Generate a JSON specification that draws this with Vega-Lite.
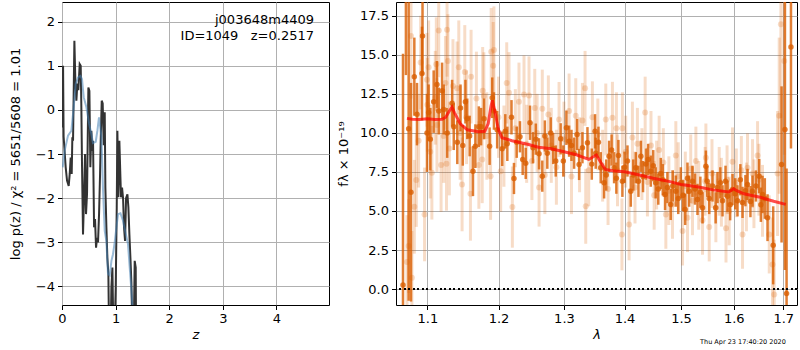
{
"$schema": "https://vega.github.io/schema/vega-lite/v6.json",
"padding": {"left": 8, "top": 1, "right": 1, "bottom": 0},
"spacing": 7,
"config": {
 "view": {"stroke": "black", "strokeWidth": 1},
 "font": "DejaVu Sans",
 "axis": {"labelFont": "DejaVu Sans", "labelFontSize": 13, "titleFont": "DejaVu Sans", "titleFontSize": 13, "titleFontWeight": "normal", "tickSize": 4.5, "tickColor": "black", "labelColor": "black", "titleColor": "black", "labelPadding": 3, "domain": false, "gridColor": "#b0b0b0", "gridWidth": 1, "gridOpacity": 1, "labelFlush": false, "labelOverlap": false}
},
"datasets": {
 "pzk": [
  {"z":0.005,"lp":1.0},{"z":0.012,"lp":-0.4},{"z":0.02,"lp":1.0},{"z":0.03,"lp":-0.6},{"z":0.069,"lp":-1.3},{"z":0.094,"lp":-1.6},{"z":0.125,"lp":-1.72},{"z":0.144,"lp":-1.45},{"z":0.162,"lp":-1.08},{"z":0.181,"lp":-1.45},{"z":0.193,"lp":-0.62},{"z":0.206,"lp":-0.7},{"z":0.231,"lp":1.57},{"z":0.249,"lp":0.67},{"z":0.268,"lp":0.21},{"z":0.287,"lp":0.6},{"z":0.305,"lp":0.45},{"z":0.33,"lp":1.04},{"z":0.349,"lp":1.0},{"z":0.361,"lp":0.06},{"z":0.374,"lp":-1.3},{"z":0.392,"lp":-2.82},{"z":0.411,"lp":-1.98},{"z":0.43,"lp":-1.0},{"z":0.448,"lp":-2.36},{"z":0.467,"lp":-1.9},{"z":0.492,"lp":0.51},{"z":0.511,"lp":0.43},{"z":0.529,"lp":-1.3},{"z":0.548,"lp":-0.47},{"z":0.567,"lp":-0.93},{"z":0.579,"lp":-0.7},{"z":0.598,"lp":-2.66},{"z":0.616,"lp":-2.47},{"z":0.635,"lp":-3.12},{"z":0.654,"lp":-2.9},{"z":0.672,"lp":-3.0},{"z":0.691,"lp":-2.36},{"z":0.71,"lp":-1.45},{"z":0.722,"lp":-0.7},{"z":0.741,"lp":0.21},{"z":0.759,"lp":0.15},{"z":0.778,"lp":-0.8},{"z":0.797,"lp":-0.05},{"z":0.809,"lp":-1.76},{"z":0.828,"lp":-2.66},{"z":0.846,"lp":-3.35},{"z":0.865,"lp":-3.72},{"z":0.877,"lp":-5},{"z":0.909,"lp":-5},{"z":0.921,"lp":-4.03},{"z":0.94,"lp":-3.57},{"z":0.958,"lp":-5},{"z":0.983,"lp":-5},{"z":1.002,"lp":-4.03},{"z":1.021,"lp":-2.21},{"z":1.033,"lp":-0.47},{"z":1.052,"lp":-1.98},{"z":1.07,"lp":-0.7},{"z":1.089,"lp":-1.5},{"z":1.101,"lp":-1.98},{"z":1.12,"lp":-1.76},{"z":1.139,"lp":-2.0},{"z":1.157,"lp":-2.66},{"z":1.176,"lp":-2.97},{"z":1.195,"lp":-2.0},{"z":1.22,"lp":-1.91},{"z":1.238,"lp":-2.2},{"z":1.257,"lp":-2.82},{"z":1.276,"lp":-3.35},{"z":1.294,"lp":-3.9},{"z":1.313,"lp":-5},{"z":1.338,"lp":-5},{"z":1.356,"lp":-3.42},{"z":1.375,"lp":-3.57},{"z":1.381,"lp":-5},{"z":1.45,"lp":-6}
 ],
 "pzb": [
  {"z":0.013,"lp":-1.3},{"z":0.05,"lp":-0.92},{"z":0.112,"lp":-0.58},{"z":0.175,"lp":-0.47},{"z":0.218,"lp":0.06},{"z":0.256,"lp":0.59},{"z":0.299,"lp":0.74},{"z":0.343,"lp":0.77},{"z":0.373,"lp":0.7},{"z":0.405,"lp":0.29},{"z":0.455,"lp":0.06},{"z":0.504,"lp":-0.3},{"z":0.549,"lp":-0.55},{"z":0.578,"lp":-0.75},{"z":0.629,"lp":-0.72},{"z":0.66,"lp":-0.47},{"z":0.69,"lp":-0.17},{"z":0.735,"lp":-0.6},{"z":0.75,"lp":-1.2},{"z":0.765,"lp":-1.8},{"z":0.797,"lp":-2.74},{"z":0.828,"lp":-2.97},{"z":0.858,"lp":-3.72},{"z":0.89,"lp":-3.75},{"z":0.922,"lp":-3.42},{"z":0.951,"lp":-3.27},{"z":0.983,"lp":-3.0},{"z":1.015,"lp":-2.66},{"z":1.045,"lp":-2.36},{"z":1.09,"lp":-2.34},{"z":1.138,"lp":-2.51},{"z":1.188,"lp":-2.8},{"z":1.231,"lp":-3.04},{"z":1.263,"lp":-3.57},{"z":1.295,"lp":-4.1},{"z":1.32,"lp":-4.6},{"z":1.4,"lp":-6}
 ],
 "lab": [
  {"z":4.7,"lp":1.952,"t":"j003648m4409"},{"z":4.7,"lp":1.596,"t":"ID=1049\u00a0\u00a0\u00a0z=0.2517"}
 ],
 "dk": [
  {"w":1.0677,"f":0.26,"e":14.8},{"w":1.0715,"f":19.5,"e":5.8},{"w":1.0751,"f":10.26,"e":11},{"w":1.0782,"f":6.2,"e":7},{"w":1.0826,"f":13.6,"e":2.5},{"w":1.0861,"f":11.2,"e":2},{"w":1.0928,"f":13.8,"e":3},{"w":1.0935,"f":16.2,"e":2.5},{"w":1.0995,"f":10.0,"e":2.5},{"w":1.1017,"f":11.3,"e":1.8},{"w":1.104,"f":9.6,"e":2.0},{"w":1.1085,"f":12.0,"e":2},{"w":1.113,"f":13.1,"e":1.5},{"w":1.1154,"f":11.4,"e":1.5},{"w":1.12,"f":12.7,"e":1.8},{"w":1.1222,"f":11.5,"e":1.6},{"w":1.127,"f":10.0,"e":1.6},{"w":1.1338,"f":11.9,"e":1.5},{"w":1.1361,"f":10.4,"e":1.5},{"w":1.141,"f":9.4,"e":1.4},{"w":1.1455,"f":11.6,"e":1.5},{"w":1.1487,"f":9.2,"e":1.3},{"w":1.1524,"f":12.0,"e":1.4},{"w":1.155,"f":10.9,"e":1.3},{"w":1.1584,"f":9.8,"e":1.3},{"w":1.1631,"f":7.55,"e":1.6},{"w":1.1665,"f":9.15,"e":1.4},{"w":1.1715,"f":10.4,"e":1.3},{"w":1.1747,"f":10.4,"e":1.2},{"w":1.179,"f":10.9,"e":1.3},{"w":1.187,"f":9.15,"e":1.2},{"w":1.1908,"f":12.25,"e":1.3},{"w":1.1933,"f":11.4,"e":1.2},{"w":1.198,"f":10.2,"e":1.2},{"w":1.2054,"f":8.98,"e":1.1},{"w":1.21,"f":10.1,"e":1.1},{"w":1.213,"f":9.3,"e":1.1},{"w":1.2192,"f":11.0,"e":1.1},{"w":1.2229,"f":7.08,"e":1.0},{"w":1.227,"f":9.4,"e":1.0},{"w":1.2319,"f":9.75,"e":1.0},{"w":1.236,"f":8.3,"e":1.0},{"w":1.2406,"f":8.05,"e":1.0},{"w":1.2471,"f":10.65,"e":1.1},{"w":1.2517,"f":9.05,"e":1.0},{"w":1.256,"f":9.6,"e":1.0},{"w":1.261,"f":8.66,"e":1.0},{"w":1.266,"f":7.23,"e":1.0},{"w":1.27,"f":9.8,"e":1.0},{"w":1.2738,"f":8.7,"e":1.0},{"w":1.2791,"f":10.0,"e":1.0},{"w":1.283,"f":9.0,"e":1.0},{"w":1.287,"f":8.2,"e":1.0},{"w":1.2948,"f":9.62,"e":1.0},{"w":1.299,"f":8.2,"e":1.0},{"w":1.3039,"f":10.33,"e":1.1},{"w":1.3082,"f":9.47,"e":1.0},{"w":1.312,"f":9.2,"e":1.0},{"w":1.3162,"f":8.7,"e":1.0},{"w":1.321,"f":9.9,"e":1.0},{"w":1.3243,"f":7.98,"e":1.0},{"w":1.3297,"f":9.05,"e":1.0},{"w":1.3379,"f":9.37,"e":1.0},{"w":1.345,"f":8.0,"e":1.0},{"w":1.3504,"f":10.1,"e":1.1},{"w":1.3515,"f":8.7,"e":1.0},{"w":1.356,"f":9.4,"e":1.0},{"w":1.3598,"f":7.77,"e":1.0},{"w":1.3654,"f":6.8,"e":1.0},{"w":1.369,"f":7.3,"e":1.0},{"w":1.3738,"f":8.5,"e":1.0},{"w":1.378,"f":8.9,"e":1.0},{"w":1.3822,"f":7.77,"e":1.0},{"w":1.386,"f":7.1,"e":1.0},{"w":1.3895,"f":8.55,"e":1.0},{"w":1.3963,"f":6.9,"e":1.0},{"w":1.4,"f":7.8,"e":1.0},{"w":1.405,"f":8.2,"e":1.0},{"w":1.4107,"f":6.27,"e":1.0},{"w":1.415,"f":7.3,"e":1.0},{"w":1.4194,"f":7.77,"e":1.0},{"w":1.424,"f":6.9,"e":1.0},{"w":1.4282,"f":8.5,"e":1.0},{"w":1.432,"f":7.2,"e":1.0},{"w":1.4369,"f":8.0,"e":1.0},{"w":1.441,"f":8.3,"e":1.0},{"w":1.4456,"f":7.55,"e":1.0},{"w":1.45,"f":7.9,"e":1.0},{"w":1.4543,"f":6.8,"e":1.0},{"w":1.459,"f":6.4,"e":1.0},{"w":1.4634,"f":7.4,"e":1.0},{"w":1.467,"f":7.0,"e":1.0},{"w":1.4711,"f":6.06,"e":1.0},{"w":1.4753,"f":6.5,"e":1.0},{"w":1.4813,"f":5.42,"e":1.0},{"w":1.485,"f":6.6,"e":1.0},{"w":1.4906,"f":6.27,"e":1.0},{"w":1.495,"f":5.8,"e":1.0},{"w":1.4998,"f":6.8,"e":1.0},{"w":1.504,"f":6.0,"e":1.0},{"w":1.5077,"f":5.1,"e":1.0},{"w":1.512,"f":7.1,"e":1.0},{"w":1.5151,"f":6.27,"e":1.0},{"w":1.5213,"f":6.9,"e":1.0},{"w":1.526,"f":6.4,"e":1.0},{"w":1.5306,"f":5.74,"e":1.0},{"w":1.536,"f":6.2,"e":1.0},{"w":1.5401,"f":5.2,"e":1.0},{"w":1.5464,"f":7.87,"e":1.0},{"w":1.549,"f":6.9,"e":1.0},{"w":1.5527,"f":5.8,"e":1.0},{"w":1.559,"f":6.6,"e":1.0},{"w":1.565,"f":5.2,"e":1.0},{"w":1.5686,"f":6.5,"e":1.0},{"w":1.574,"f":6.8,"e":1.0},{"w":1.5782,"f":5.65,"e":1.0},{"w":1.584,"f":6.9,"e":1.0},{"w":1.5879,"f":5.95,"e":1.0},{"w":1.593,"f":5.4,"e":1.0},{"w":1.5976,"f":6.37,"e":1.0},{"w":1.603,"f":6.1,"e":1.0},{"w":1.6074,"f":5.65,"e":1.0},{"w":1.613,"f":7.0,"e":1.0},{"w":1.6173,"f":5.55,"e":1.0},{"w":1.623,"f":6.3,"e":1.0},{"w":1.6272,"f":6.7,"e":1.0},{"w":1.633,"f":5.6,"e":1.0},{"w":1.6372,"f":6.27,"e":1.0},{"w":1.644,"f":6.6,"e":1.0},{"w":1.6506,"f":7.23,"e":1.1},{"w":1.654,"f":5.4,"e":1.1},{"w":1.6573,"f":6.06,"e":1.2},{"w":1.662,"f":5.8,"e":1.3},{"w":1.6675,"f":4.57,"e":1.5},{"w":1.6791,"f":2.8,"e":2.5},{"w":1.6964,"f":7.98,"e":5},{"w":1.7034,"f":10.22,"e":9},{"w":1.7068,"f":-0.28,"e":8},{"w":1.716,"f":15.5,"e":6.5}
 ],
 "lt": [
  {"w":1.0729,"f":1.73,"e":3},{"w":1.0751,"f":2.75,"e":3},{"w":1.0794,"f":0.72,"e":3},{"w":1.0826,"f":5.27,"e":3},{"w":1.0852,"f":6.98,"e":3},{"w":1.0782,"f":16.2,"e":4},{"w":1.0962,"f":4.78,"e":3},{"w":1.091,"f":14.5,"e":3},{"w":1.1017,"f":14.2,"e":3},{"w":1.0883,"f":9.5,"e":3},{"w":1.1039,"f":8.8,"e":3},{"w":1.1061,"f":7.45,"e":3},{"w":1.1107,"f":12.25,"e":3},{"w":1.1154,"f":16.56,"e":3},{"w":1.1268,"f":16.6,"e":3},{"w":1.1121,"f":14.4,"e":3},{"w":1.1246,"f":13.2,"e":3},{"w":1.128,"f":14.6,"e":3},{"w":1.1186,"f":7.94,"e":3},{"w":1.126,"f":8.02,"e":3},{"w":1.1222,"f":9.8,"e":3},{"w":1.1431,"f":14.2,"e":3},{"w":1.1515,"f":13.9,"e":3},{"w":1.1604,"f":13.6,"e":3},{"w":1.1477,"f":6.7,"e":3},{"w":1.1595,"f":6.1,"e":3},{"w":1.1715,"f":7.94,"e":2.8},{"w":1.1763,"f":8.3,"e":2.8},{"w":1.1787,"f":12.36,"e":2.8},{"w":1.1893,"f":15.2,"e":2.8},{"w":1.1933,"f":15.3,"e":2.8},{"w":1.1922,"f":14.3,"e":2.8},{"w":1.1884,"f":7.23,"e":2.8},{"w":1.2032,"f":7.55,"e":2.6},{"w":1.2121,"f":13.2,"e":2.6},{"w":1.2155,"f":12.57,"e":2.6},{"w":1.2205,"f":5.25,"e":2.6},{"w":1.208,"f":9.15,"e":2.6},{"w":1.177,"f":12.7,"e":2.8},{"w":1.1407,"f":12.85,"e":3},{"w":1.0995,"f":13.4,"e":3},{"w":1.2304,"f":12.0,"e":2.5},{"w":1.238,"f":12.46,"e":2.5},{"w":1.2456,"f":12.4,"e":2.5},{"w":1.2544,"f":11.6,"e":2.5},{"w":1.261,"f":6.5,"e":2.5},{"w":1.266,"f":11.55,"e":2.5},{"w":1.2754,"f":11.18,"e":2.5},{"w":1.2922,"f":10.86,"e":2.4},{"w":1.3082,"f":11.4,"e":2.4},{"w":1.3189,"f":11.1,"e":2.4},{"w":1.3297,"f":10.8,"e":2.4},{"w":1.334,"f":12.85,"e":2.4},{"w":1.3351,"f":5.3,"e":2.4},{"w":1.346,"f":11.0,"e":2.3},{"w":1.3682,"f":10.86,"e":2.3},{"w":1.3794,"f":10.97,"e":2.3},{"w":1.3861,"f":10.3,"e":2.3},{"w":1.3963,"f":10.3,"e":2.3},{"w":1.3955,"f":3.5,"e":2.3},{"w":1.4078,"f":4.14,"e":2.3},{"w":1.4135,"f":9.7,"e":2.3},{"w":1.4222,"f":9.3,"e":2.3},{"w":1.4357,"f":11.3,"e":2.3},{"w":1.4397,"f":6.85,"e":2.2},{"w":1.4516,"f":6.0,"e":2.2},{"w":1.4605,"f":8.9,"e":2.2},{"w":1.4725,"f":4.78,"e":2.2},{"w":1.4845,"f":5.42,"e":2.2},{"w":1.4906,"f":8.55,"e":2.2},{"w":1.5029,"f":3.71,"e":2.2},{"w":1.512,"f":4.57,"e":2.2},{"w":1.5213,"f":5.65,"e":2.2},{"w":1.5276,"f":8.2,"e":2.2},{"w":1.5401,"f":4.4,"e":2.2},{"w":1.5464,"f":8.4,"e":2.2},{"w":1.5527,"f":3.97,"e":2.2},{"w":1.5654,"f":5.2,"e":2.2},{"w":1.5718,"f":6.9,"e":2.2},{"w":1.5849,"f":3.9,"e":2.2},{"w":1.5911,"f":5.0,"e":2.2},{"w":1.5976,"f":8.15,"e":2.2},{"w":1.6173,"f":3.5,"e":2.2},{"w":1.6272,"f":7.77,"e":2.2},{"w":1.6372,"f":7.4,"e":2.2},{"w":1.6473,"f":8.55,"e":2.2},{"w":1.6573,"f":5.65,"e":2.3},{"w":1.671,"f":3.5,"e":2.5},{"w":1.6777,"f":1.58,"e":3},{"w":1.6812,"f":-0.34,"e":3.5},{"w":1.695,"f":16.95,"e":6},{"w":1.7019,"f":14.6,"e":6},{"w":1.6915,"f":11.1,"e":5},{"w":1.6881,"f":7.4,"e":4},
  {"w":1.1,"f":11.8,"e":3},{"w":1.113,"f":10.5,"e":3},{"w":1.13,"f":9.0,"e":3},{"w":1.135,"f":13.0,"e":3},{"w":1.145,"f":10.0,"e":3},{"w":1.154,"f":11.0,"e":3},{"w":1.168,"f":12.2,"e":3},{"w":1.183,"f":9.8,"e":2.8},{"w":1.2,"f":11.0,"e":2.6},{"w":1.225,"f":10.3,"e":2.5},{"w":1.242,"f":9.3,"e":2.5},{"w":1.25,"f":8.2,"e":2.5},{"w":1.258,"f":10.0,"e":2.5},{"w":1.27,"f":7.3,"e":2.5},{"w":1.28,"f":9.2,"e":2.4},{"w":1.288,"f":7.8,"e":2.4},{"w":1.3,"f":9.6,"e":2.4},{"w":1.312,"f":7.2,"e":2.4},{"w":1.325,"f":8.6,"e":2.4},{"w":1.34,"f":7.6,"e":2.3},{"w":1.355,"f":9.9,"e":2.3},{"w":1.363,"f":7.9,"e":2.3},{"w":1.372,"f":6.4,"e":2.3},{"w":1.388,"f":7.6,"e":2.3},{"w":1.402,"f":8.8,"e":2.3},{"w":1.418,"f":6.5,"e":2.3},{"w":1.43,"f":8.0,"e":2.3},{"w":1.446,"f":9.2,"e":2.2},{"w":1.456,"f":7.3,"e":2.2},{"w":1.468,"f":8.1,"e":2.2},{"w":1.478,"f":6.3,"e":2.2},{"w":1.495,"f":7.2,"e":2.2},{"w":1.508,"f":6.6,"e":2.2},{"w":1.518,"f":7.7,"e":2.2},{"w":1.533,"f":6.0,"e":2.2},{"w":1.545,"f":6.9,"e":2.2},{"w":1.558,"f":7.4,"e":2.2},{"w":1.576,"f":6.2,"e":2.2},{"w":1.587,"f":7.0,"e":2.2},{"w":1.605,"f":6.8,"e":2.2},{"w":1.615,"f":7.6,"e":2.2},{"w":1.625,"f":5.9,"e":2.2},{"w":1.64,"f":6.1,"e":2.2},{"w":1.65,"f":7.0,"e":2.3}
 ],
 "mdl": [
  {"w":1.0729,"f":10.93},{"w":1.08,"f":10.87},{"w":1.09,"f":10.86},{"w":1.1,"f":10.9},{"w":1.11,"f":10.85},{"w":1.12,"f":10.87},{"w":1.125,"f":11.0},{"w":1.13,"f":11.4},{"w":1.1336,"f":11.65},{"w":1.137,"f":11.3},{"w":1.145,"f":10.6},{"w":1.155,"f":10.2},{"w":1.171,"f":10.07},{"w":1.18,"f":10.1},{"w":1.185,"f":10.6},{"w":1.189,"f":11.7},{"w":1.191,"f":12.08},{"w":1.195,"f":11.3},{"w":1.2,"f":10.2},{"w":1.205,"f":9.69},{"w":1.22,"f":9.5},{"w":1.245,"f":9.26},{"w":1.26,"f":9.08},{"w":1.28,"f":8.98},{"w":1.3,"f":8.79},{"w":1.32,"f":8.6},{"w":1.34,"f":8.3},{"w":1.3525,"f":8.58},{"w":1.36,"f":8.1},{"w":1.3675,"f":7.66},{"w":1.38,"f":7.58},{"w":1.4,"f":7.51},{"w":1.42,"f":7.35},{"w":1.45,"f":7.1},{"w":1.48,"f":6.88},{"w":1.5,"f":6.7},{"w":1.53,"f":6.55},{"w":1.56,"f":6.35},{"w":1.59,"f":6.22},{"w":1.6,"f":6.42},{"w":1.606,"f":6.3},{"w":1.62,"f":6.1},{"w":1.65,"f":5.9},{"w":1.68,"f":5.62},{"w":1.705,"f":5.42}
 ],
 "ts": [{"w":1.7052,"f":-3.5,"t":"Thu Apr 23 17:40:20 2020"}]
},
"hconcat": [
 {
  "width": 267, "height": 303,
  "layer": [
   {"data": {"name": "pzk"}, "mark": {"type": "line", "color": "#333333", "strokeWidth": 2, "clip": true},
    "encoding": {
     "x": {"field": "z", "type": "quantitative", "sort": null, "scale": {"domain": [0, 4.98], "nice": false, "zero": false}, "axis": {"values": [0,1,2,3,4], "title": "z", "titleFontStyle": "italic", "titlePadding": 3, "grid": true}},
     "y": {"field": "lp", "type": "quantitative", "scale": {"domain": [-4.42, 2.447], "nice": false, "zero": false}, "axis": {"values": [-4,-3,-2,-1,0,1,2], "title": "log p(z) / χ² = 5651/5608 = 1.01", "titlePadding": 13, "grid": true}}
    }},
   {"data": {"name": "pzb"}, "mark": {"type": "line", "color": "#4682b4", "opacity": 0.55, "strokeWidth": 2, "clip": true},
    "encoding": {
     "x": {"field": "z", "type": "quantitative", "sort": null},
     "y": {"field": "lp", "type": "quantitative"}
    }},
   {"data": {"name": "lab"}, "mark": {"type": "text", "align": "right", "baseline": "alphabetic", "fontSize": 13, "font": "DejaVu Sans", "color": "black"},
    "encoding": {
     "x": {"field": "z", "type": "quantitative"},
     "y": {"field": "lp", "type": "quantitative"},
     "text": {"field": "t"}
    }}
  ]
 },
 {
  "width": 401, "height": 303,
  "layer": [
   {"data": {"name": "lt"}, "mark": {"type": "errorbar", "color": "#d95f02", "opacity": 0.22, "thickness": 3, "clip": true},
    "encoding": {
     "x": {"field": "w", "type": "quantitative", "title": "λ", "scale": {"type": "log", "domain": [1.0586, 1.7287], "nice": false}, "axis": {"values": [1.1,1.2,1.3,1.4,1.5,1.6,1.7], "format": ".1f", "title": "λ", "titleFontStyle": "italic", "titlePadding": 3, "grid": true}},
     "y": {"field": "f", "type": "quantitative", "title": "fλ × 10⁻¹⁹", "scale": {"domain": [-1.02, 18.38], "nice": false, "zero": false}, "axis": {"values": [0,2.5,5,7.5,10,12.5,15,17.5], "format": ".1f", "title": "fλ × 10⁻¹⁹", "titlePadding": 9, "grid": true}},
     "yError": {"field": "e"}
    }},
   {"data": {"name": "lt"}, "mark": {"type": "circle", "color": "#d95f02", "opacity": 0.22, "size": 36, "clip": true},
    "encoding": {
     "x": {"field": "w", "type": "quantitative", "title": "λ"},
     "y": {"field": "f", "type": "quantitative", "title": "fλ × 10⁻¹⁹"}
    }},
   {"data": {"name": "dk"}, "mark": {"type": "errorbar", "color": "#d95f02", "opacity": 0.8, "thickness": 2.5, "clip": true},
    "encoding": {
     "x": {"field": "w", "type": "quantitative", "title": "λ"},
     "y": {"field": "f", "type": "quantitative", "title": "fλ × 10⁻¹⁹"},
     "yError": {"field": "e"}
    }},
   {"data": {"name": "dk"}, "mark": {"type": "circle", "color": "#d95f02", "opacity": 0.8, "size": 30, "clip": true},
    "encoding": {
     "x": {"field": "w", "type": "quantitative", "title": "λ"},
     "y": {"field": "f", "type": "quantitative", "title": "fλ × 10⁻¹⁹"}
    }},
   {"data": {"name": "mdl"}, "mark": {"type": "line", "color": "red", "opacity": 0.7, "strokeWidth": 3, "clip": true},
    "encoding": {
     "x": {"field": "w", "type": "quantitative", "title": "λ"},
     "y": {"field": "f", "type": "quantitative", "title": "fλ × 10⁻¹⁹"}
    }},
   {"data": {"name": "mdl"}, "mark": {"type": "rule", "color": "black", "strokeWidth": 1.5, "strokeDash": [1.5, 3]},
    "encoding": {
     "y": {"datum": 0, "type": "quantitative", "title": "fλ × 10⁻¹⁹"}
    }},
   {"data": {"name": "ts"}, "mark": {"type": "text", "align": "right", "baseline": "alphabetic", "fontSize": 6.5, "font": "DejaVu Sans", "color": "black", "clip": false},
    "encoding": {
     "x": {"field": "w", "type": "quantitative", "title": "λ"},
     "y": {"field": "f", "type": "quantitative", "title": "fλ × 10⁻¹⁹"},
     "text": {"field": "t"}
    }}
  ]
 }
]
}
